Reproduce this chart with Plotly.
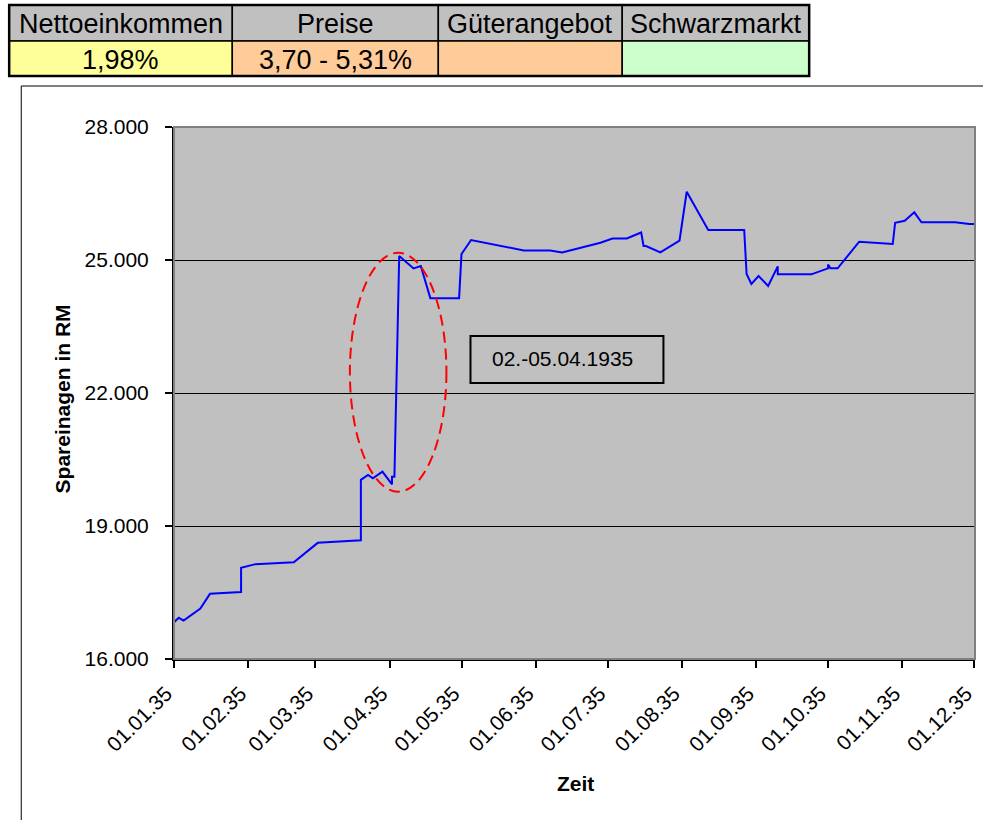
import plotly.graph_objects as go

# --- savings deposits 1935 (Reichsmark) ---
dates = [
    "1935-01-01", "1935-01-03", "1935-01-05", "1935-01-12", "1935-01-16",
    "1935-01-29", "1935-01-29", "1935-02-04", "1935-02-20", "1935-03-02",
    "1935-03-20", "1935-03-20", "1935-03-23", "1935-03-25", "1935-03-29",
    "1935-04-02", "1935-04-02", "1935-04-03", "1935-04-05", "1935-04-11",
    "1935-04-14", "1935-04-18", "1935-04-30", "1935-05-01", "1935-05-05",
    "1935-05-27", "1935-06-07", "1935-06-12", "1935-06-28", "1935-07-03",
    "1935-07-09", "1935-07-15", "1935-07-16", "1935-07-17", "1935-07-23",
    "1935-07-31", "1935-08-03", "1935-08-12", "1935-08-27", "1935-08-28",
    "1935-08-30", "1935-09-02", "1935-09-06", "1935-09-10", "1935-09-10",
    "1935-09-24", "1935-10-01", "1935-10-01", "1935-10-02", "1935-10-05",
    "1935-10-14", "1935-10-28", "1935-10-29", "1935-11-02", "1935-11-06",
    "1935-11-07", "1935-11-09", "1935-11-23", "1935-11-29", "1935-12-03",
]
savings = [
    16830, 16930, 16865, 17140, 17470,
    17510, 18060, 18140, 18180, 18620,
    18680, 20040, 20150, 20075, 20225,
    19940, 20110, 20110, 25090, 24810,
    24865, 24140, 24140, 25135, 25450,
    25215, 25215, 25170, 25390, 25485,
    25485, 25620, 25315, 25315, 25170,
    25435, 26540, 25677, 25677, 24684,
    24459, 24639, 24414, 24857, 24677,
    24677, 24812, 24900, 24812, 24812,
    25412, 25361, 25841, 25886, 26075,
    25992, 25849, 25849, 25812, 25812,
]

# x-axis ticks (first of each month)
month_ticks = ["1935-%02d-01" % m for m in range(1, 13)]
month_labels = ["01.%02d.35" % m for m in range(1, 13)]

# y-axis ticks
y_ticks = [16000, 19000, 22000, 25000, 28000]
y_labels = ["16.000", "19.000", "22.000", "25.000", "28.000"]

# summary table above the chart
table_headers = ["Nettoeinkommen", "Preise", "Güterangebot", "Schwarzmarkt"]
table_values = ["1,98%", "3,70 - 5,31%", "", ""]
table_colors = ["#ffff99", "#ffcc99", "#ffcc99", "#ccffcc"]

annotation_text = "02.-05.04.1935"

FONT = "Arial, 'Liberation Sans', sans-serif"

W, H = 983, 820
PL, PR, PT, PB = 174, 971, 127, 659  # plot area in page pixels
MARGIN_R = 8


def px(x):
    return (x - PL) / (PR - PL)


def py(y):
    return (PB - y) / (PB - PT)


fig = go.Figure()
fig.add_trace(go.Scatter(
    x=dates, y=savings, mode="lines",
    line=dict(color="#0000ff", width=2),
    hoverinfo="skip", showlegend=False,
))

shapes = []
annotations = []

# outer chart frame
shapes.append(dict(type="rect", xref="paper", yref="paper",
                   x0=px(22), x1=px(1010), y0=py(86), y1=py(850),
                   line=dict(color="black", width=1), layer="below"))

# plot area frame (top/right in grey)
shapes.append(dict(type="rect", xref="paper", yref="paper",
                   x0=0, x1=1, y0=0, y1=1,
                   line=dict(color="#808080", width=2), layer="above"))

# table
col_edges = [10, 232, 437, 620, 806]
row_edges = [5, 41, 76]
for i, (head, val, col) in enumerate(zip(table_headers, table_values, table_colors)):
    x0, x1 = col_edges[i], col_edges[i + 1]
    shapes.append(dict(type="rect", xref="paper", yref="paper",
                       x0=px(x0), x1=px(x1), y0=py(row_edges[1]), y1=py(row_edges[0]),
                       fillcolor="#c0c0c0", line=dict(color="black", width=1.5)))
    shapes.append(dict(type="rect", xref="paper", yref="paper",
                       x0=px(x0), x1=px(x1), y0=py(row_edges[2]), y1=py(row_edges[1]),
                       fillcolor=col, line=dict(color="black", width=1.5)))
    xc = px((x0 + x1) / 2)
    annotations.append(dict(xref="paper", yref="paper", x=xc,
                            y=py((row_edges[0] + row_edges[1]) / 2 + 1),
                            text=head, showarrow=False, xanchor="center", yanchor="middle",
                            font=dict(family=FONT, size=27, color="black")))
    if val:
        annotations.append(dict(xref="paper", yref="paper", x=xc,
                                y=py((row_edges[1] + row_edges[2]) / 2 + 1),
                                text=val, showarrow=False, xanchor="center", yanchor="middle",
                                font=dict(family=FONT, size=27, color="black")))
shapes.append(dict(type="rect", xref="paper", yref="paper",
                   x0=px(col_edges[0]), x1=px(col_edges[-1]),
                   y0=py(row_edges[-1]), y1=py(row_edges[0]),
                   line=dict(color="black", width=2.5)))

# dashed ellipse around the April jump
shapes.append(dict(type="circle", xref="x", yref="y",
                   x0="1935-03-15 10:00", x1="1935-04-24 17:00",
                   y0=19774, y1=25164,
                   line=dict(color="#ff0000", width=2, dash="11px,6px"), layer="above"))

# labelled box
shapes.append(dict(type="rect", xref="paper", yref="paper",
                   x0=px(469), x1=px(661), y0=py(383), y1=py(336),
                   line=dict(color="black", width=2), layer="above"))
annotations.append(dict(xref="paper", yref="paper", x=px(561), y=py(358),
                        text=annotation_text, showarrow=False,
                        xanchor="center", yanchor="middle",
                        font=dict(family=FONT, size=21, color="black")))

# axis titles
annotations.append(dict(xref="paper", yref="paper", x=px(63), y=py(399),
                        text="<b>Spareinagen in RM</b>", textangle=-90, showarrow=False,
                        xanchor="center", yanchor="middle",
                        font=dict(family=FONT, size=21, color="black")))
annotations.append(dict(xref="paper", yref="paper", x=px(573), y=py(783),
                        text="<b>Zeit</b>", showarrow=False,
                        xanchor="center", yanchor="middle",
                        font=dict(family=FONT, size=21, color="black")))

fig.update_layout(
    width=W, height=H,
    margin=dict(l=PL, r=MARGIN_R, t=PT, b=H - PB, pad=0),
    paper_bgcolor="white", plot_bgcolor="#c0c0c0",
    font=dict(family=FONT, size=21, color="black"),
    shapes=shapes, annotations=annotations,
    showlegend=False,
)
fig.update_xaxes(
    type="date", range=["1935-01-01", "1935-12-01 08:00"],
    tickvals=month_ticks, ticktext=month_labels, tickangle=-45,
    ticks="outside", ticklen=7, tickwidth=1.5, tickcolor="black",
    showline=True, linecolor="black", linewidth=2,
    showgrid=False, zeroline=False,
    tickfont=dict(family=FONT, size=21, color="black"),
    ticklabelstandoff=5, ticklabelshift=-8,
)
fig.update_yaxes(
    range=[16000, 28000], tickvals=y_ticks, ticktext=y_labels,
    ticks="outside", ticklen=7, tickwidth=1.5, tickcolor="black",
    showline=True, linecolor="black", linewidth=2,
    showgrid=True, gridcolor="black", gridwidth=1, zeroline=False,
    tickfont=dict(family=FONT, size=21, color="black"),
    ticklabelstandoff=12,
)

fig.write_html("out.html")
